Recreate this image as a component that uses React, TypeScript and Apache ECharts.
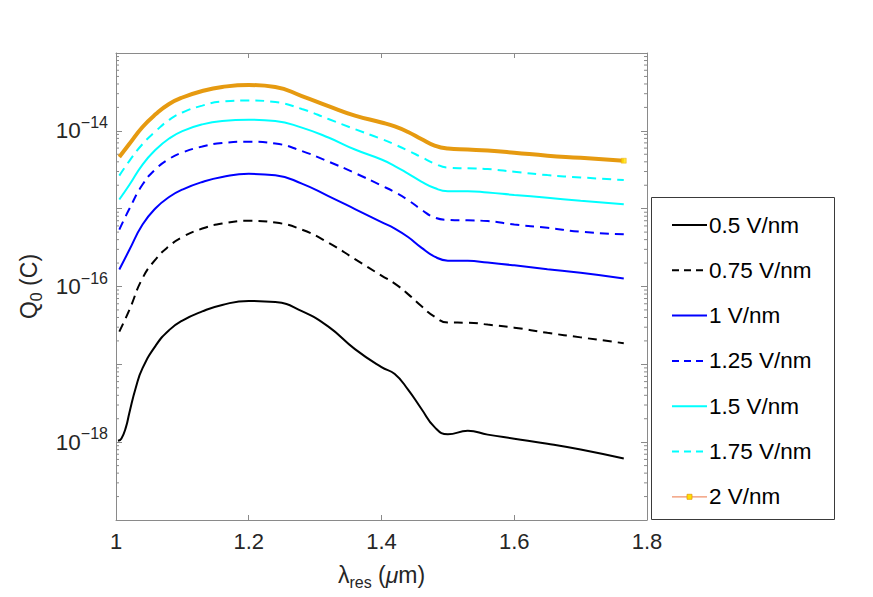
import React, { useEffect, useRef } from "react";
import * as echarts from "echarts";

const FONT = "'Liberation Sans', Arial, Helvetica, sans-serif";

// wavelength grid (µm)
const xGrid = [1.005, 1.02, 1.04, 1.06, 1.08, 1.1, 1.13, 1.16, 1.2, 1.24, 1.28, 1.32, 1.36, 1.4, 1.42, 1.44, 1.46, 1.48, 1.5, 1.53, 1.56, 1.6, 1.65, 1.7, 1.765];
const xBlack = [1.003, 1.008, 1.015, 1.02, 1.03, 1.04, 1.06, 1.08, 1.1, 1.13, 1.16, 1.2, 1.24, 1.28, 1.32, 1.36, 1.4, 1.42, 1.44, 1.46, 1.48, 1.5, 1.53, 1.56, 1.6, 1.65, 1.7, 1.765];

// Q0 (C) per field strength
const q05 = [1.04e-18, 1.11e-18, 1.56e-18, 2.36e-18, 5.09e-18, 8.93e-18, 1.75e-17, 2.75e-17, 3.65e-17, 4.79e-17, 5.8e-17, 6.53e-17, 6.3e-17, 4.83e-17, 3.05e-17, 1.57e-17, 9.2e-18, 7.5e-18, 4.73e-18, 2.69e-18, 1.56e-18, 1.26e-18, 1.4e-18, 1.25e-18, 1.11e-18, 9.57e-19, 8.05e-19, 6.17e-19];
const q075 = [2.63e-17, 4.98e-17, 1.28e-16, 2.25e-16, 3.3e-16, 4.32e-16, 5.55e-16, 6.43e-16, 6.98e-16, 6.62e-16, 5.38e-16, 3.66e-16, 2.25e-16, 1.38e-16, 1.09e-16, 7.98e-17, 5.6e-17, 4.1e-17, 3.44e-17, 3.43e-17, 3.24e-17, 2.96e-17, 2.54e-17, 2.22e-17, 1.87e-17];
const q1 = [1.65e-16, 2.94e-16, 6.25e-16, 1.02e-15, 1.41e-15, 1.76e-15, 2.2e-15, 2.55e-15, 2.8e-15, 2.69e-15, 2.1e-15, 1.45e-15, 9.89e-16, 6.73e-16, 5.55e-16, 4.32e-16, 3.16e-16, 2.42e-16, 2.15e-16, 2.14e-16, 2.03e-16, 1.87e-16, 1.67e-16, 1.5e-16, 1.27e-16];
const q125 = [5.38e-16, 9.89e-16, 2.04e-15, 3.23e-15, 4.35e-15, 5.26e-15, 6.28e-15, 6.97e-15, 7.24e-15, 6.87e-15, 5.5e-15, 4.03e-15, 2.87e-15, 1.98e-15, 1.63e-15, 1.29e-15, 9.73e-16, 7.69e-16, 7.19e-16, 7.08e-16, 6.93e-16, 6.25e-16, 5.69e-16, 5.05e-16, 4.68e-16];
const q15 = [1.31e-15, 2.01e-15, 3.69e-15, 5.75e-15, 7.96e-15, 9.93e-15, 1.21e-14, 1.34e-14, 1.39e-14, 1.34e-14, 1.1e-14, 8.2e-15, 5.75e-15, 4.28e-15, 3.53e-15, 2.82e-15, 2.23e-15, 1.84e-15, 1.68e-15, 1.68e-15, 1.61e-15, 1.5e-15, 1.38e-15, 1.26e-15, 1.14e-15];
const q175 = [2.66e-15, 4.09e-15, 6.76e-15, 9.93e-15, 1.38e-14, 1.72e-14, 2.11e-14, 2.38e-14, 2.45e-14, 2.34e-14, 1.91e-14, 1.42e-14, 1.05e-14, 7.85e-15, 6.67e-15, 5.58e-15, 4.6e-15, 3.8e-15, 3.36e-15, 3.3e-15, 3.23e-15, 2.98e-15, 2.7e-15, 2.52e-15, 2.33e-15];
const q2 = [4.6e-15, 6.76e-15, 1.12e-14, 1.64e-14, 2.21e-14, 2.68e-14, 3.25e-14, 3.66e-14, 3.88e-14, 3.66e-14, 2.8e-14, 2.08e-14, 1.57e-14, 1.28e-14, 1.14e-14, 9.66e-15, 7.85e-15, 6.47e-15, 5.93e-15, 5.75e-15, 5.58e-15, 5.24e-15, 4.79e-15, 4.51e-15, 4.13e-15];

const seriesNames = ["0.5 V/nm", "0.75 V/nm", "1 V/nm", "1.25 V/nm", "1.5 V/nm", "1.75 V/nm", "2 V/nm"];
const xTicks = [1, 1.2, 1.4, 1.6, 1.8];
const yLabelExps = [-14, -16, -18];

const AXIS = "#8a8a8a";
const DASH = [9, 6];

const styles = [
  { color: "#000000", width: 2, dash: null as number[] | null },
  { color: "#000000", width: 2, dash: DASH },
  { color: "#0000FF", width: 2, dash: null },
  { color: "#0000FF", width: 2, dash: DASH },
  { color: "#00FFFF", width: 2, dash: null },
  { color: "#00FFFF", width: 2, dash: DASH },
  { color: "#E69A10", width: 4, dash: null },
];

export default function App() {
  const ref = useRef<HTMLDivElement>(null);
  useEffect(() => {
    if (!ref.current) return;
    const chart = echarts.init(ref.current, null, { renderer: "svg" });

    const pairs = (xs: number[], ys: number[]) => xs.map((x, i) => [x, ys[i]]);
    const allData = [
      pairs(xBlack, q05),
      pairs(xGrid, q075),
      pairs(xGrid, q1),
      pairs(xGrid, q125),
      pairs(xGrid, q15),
      pairs(xGrid, q175),
      pairs(xGrid, q2),
    ];

    const minorTicks: number[][] = [];
    for (let e = -19; e < -13; e++) {
      for (let m = 2; m <= 9; m++) minorTicks.push([1, m * Math.pow(10, e)]);
    }

    const lineSeries = allData.map((d, i) => ({
      type: "line",
      name: seriesNames[i],
      data: d,
      xAxisIndex: 0,
      yAxisIndex: 0,
      showSymbol: false,
      symbol: "none",
      smooth: 0.5,
      z: 3 + i,
      lineStyle: {
        color: styles[i].color,
        width: styles[i].width,
        type: styles[i].dash ? styles[i].dash : "solid",
        cap: "butt",
      },
    }));

    const last = xGrid.length - 1;

    const legendGraphics: any[] = [
      {
        type: "rect",
        shape: { x: 651.5, y: 197.5, width: 183, height: 322 },
        style: { fill: "#ffffff", stroke: "#3a3a3a", lineWidth: 1 },
        z: 10,
      },
    ];
    seriesNames.forEach((name, i) => {
      const y = 225 + i * 45.3;
      const st = styles[i];
      if (i === 6) {
        legendGraphics.push({
          type: "line",
          shape: { x1: 672, y1: y, x2: 707, y2: y },
          style: { stroke: "#F0906A", lineWidth: 1.2 },
          z: 11,
        });
        legendGraphics.push({
          type: "rect",
          shape: { x: 687, y: y - 2.5, width: 5, height: 5 },
          style: { fill: "#FFE000", stroke: "#E69A10", lineWidth: 0.8 },
          z: 12,
        });
      } else {
        legendGraphics.push({
          type: "line",
          shape: { x1: 672, y1: y, x2: 707, y2: y },
          style: { stroke: st.color, lineWidth: 2, lineDash: st.dash ? [7, 5] : null },
          z: 11,
        });
      }
      legendGraphics.push({
        type: "text",
        x: 709,
        y: y,
        style: {
          text: name,
          fill: "#000000",
          fontSize: 22.5,
          fontFamily: FONT,
          align: "left",
          verticalAlign: "middle",
        },
        z: 11,
      });
    });

    const option: any = {
      animation: false,
      backgroundColor: "#ffffff",
      grid: { left: 116, top: 53, right: 226, bottom: 77, containLabel: false },
      xAxis: [
        {
          type: "value",
          position: "bottom",
          min: 1,
          max: 1.8,
          interval: 0.2,
          axisLine: { show: true, onZero: false, lineStyle: { color: AXIS, width: 1 } },
          axisTick: { show: true, inside: true, length: 5, lineStyle: { color: AXIS } },
          axisLabel: {
            show: true,
            margin: 10,
            color: "#262626",
            fontSize: 22,
            fontFamily: FONT,
            formatter: (v: number) => {
              const t = xTicks.find((k) => Math.abs(k - v) < 1e-6);
              return t === undefined ? "" : String(t);
            },
          },
          splitLine: { show: false },
          name: "{n|λ}{sub|res}{n| (}{mu|μ}{n|m)}",
          nameLocation: "middle",
          nameGap: 39,
          nameTextStyle: {
            color: "#262626",
            fontFamily: FONT,
            rich: {
              n: { fontSize: 23, fontFamily: FONT, color: "#262626" },
              mu: { fontSize: 23, fontFamily: FONT, color: "#262626", fontStyle: "italic" },
              sub: { fontSize: 16, fontFamily: FONT, color: "#262626", padding: [15, 0, 0, 0] },
            },
          },
        },
        {
          type: "value",
          position: "top",
          min: 1,
          max: 1.8,
          interval: 0.2,
          axisLine: { show: true, onZero: false, lineStyle: { color: AXIS, width: 1 } },
          axisTick: { show: true, inside: true, length: 5, lineStyle: { color: AXIS } },
          axisLabel: { show: false },
          splitLine: { show: false },
        },
      ],
      yAxis: [
        {
          type: "log",
          logBase: 10,
          position: "left",
          min: 1e-19,
          max: 1e-13,
          axisLine: { show: true, onZero: false, lineStyle: { color: AXIS, width: 1 } },
          axisTick: { show: true, inside: true, length: 6, lineStyle: { color: AXIS } },
          axisLabel: {
            show: true,
            margin: 8,
            color: "#262626",
            fontFamily: FONT,
            formatter: (v: number) => {
              const e = Math.round(Math.log10(v));
              return yLabelExps.includes(e) ? `{b|10}{s|\u2212${Math.abs(e)}}` : "";
            },
            rich: {
              b: { fontSize: 22.5, fontFamily: FONT, color: "#262626" },
              s: { fontSize: 16, fontFamily: FONT, color: "#262626", padding: [0, 0, 17, 0] },
            },
          },
          splitLine: { show: false },
          minorTick: { show: false },
          name: "{n|Q}{sub|0}{n| (C)}",
          nameLocation: "middle",
          nameGap: 68,
          nameTextStyle: {
            color: "#262626",
            fontFamily: FONT,
            rich: {
              n: { fontSize: 23, fontFamily: FONT, color: "#262626" },
              sub: { fontSize: 16, fontFamily: FONT, color: "#262626", padding: [15, 0, 0, 0] },
            },
          },
        },
        {
          type: "log",
          logBase: 10,
          position: "right",
          min: 1e-19,
          max: 1e-13,
          axisLine: { show: true, onZero: false, lineStyle: { color: AXIS, width: 1 } },
          axisTick: { show: true, inside: true, length: 6, lineStyle: { color: AXIS } },
          axisLabel: { show: false },
          splitLine: { show: false },
        },
      ],
      series: [
        {
          type: "custom",
          name: "minorTicks",
          xAxisIndex: 0,
          yAxisIndex: 0,
          silent: true,
          clip: false,
          data: minorTicks,
          renderItem: (params: any, api: any) => {
            const p = api.coord([1, api.value(1)]);
            const cs = params.coordSys;
            const st = { stroke: AXIS, lineWidth: 1 };
            return {
              type: "group",
              children: [
                { type: "line", shape: { x1: cs.x, y1: p[1], x2: cs.x + 3, y2: p[1] }, style: st },
                { type: "line", shape: { x1: cs.x + cs.width, y1: p[1], x2: cs.x + cs.width - 3, y2: p[1] }, style: st },
              ],
            };
          },
          z: 1,
        },
        ...lineSeries,
        {
          type: "scatter",
          name: "2 V/nm end",
          data: [[xGrid[last], q2[last]]],
          symbol: "rect",
          symbolSize: 5,
          itemStyle: { color: "#FFE000", borderColor: "#E69A10", borderWidth: 0.5 },
          z: 20,
          silent: true,
        },
      ],
      graphic: legendGraphics,
    };

    chart.setOption(option);
    return () => chart.dispose();
  }, []);

  return (
    <div
      ref={ref}
      style={{ position: "fixed", left: 0, top: 0, width: 873, height: 597, background: "#fff" }}
    />
  );
}
